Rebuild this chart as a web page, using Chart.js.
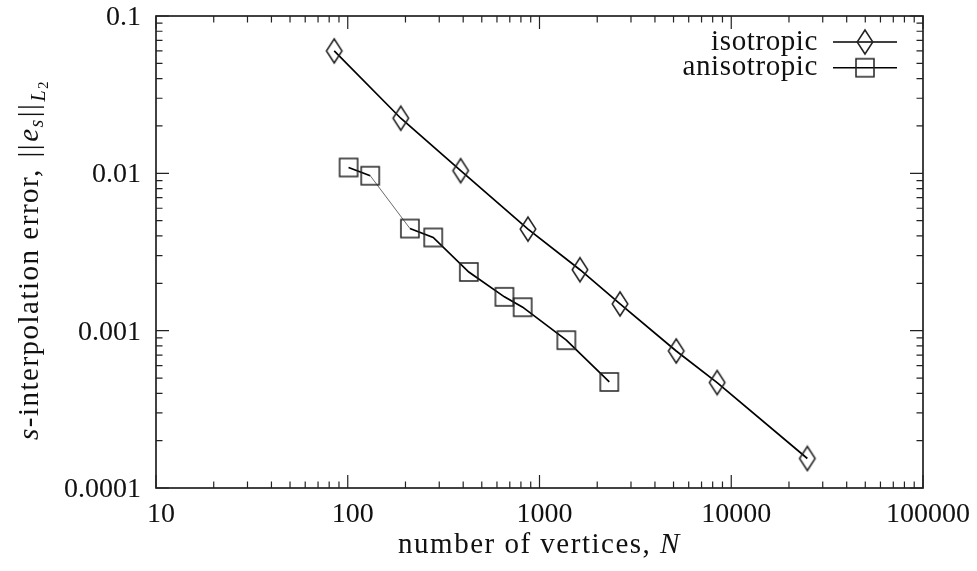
<!DOCTYPE html>
<html lang="en">
<head>
<meta charset="UTF-8">
<title>s-interpolation error vs number of vertices</title>
<script src="https://cdn.jsdelivr.net/npm/chart.js"></script>
<style>
  html, body { margin: 0; padding: 0; background: #ffffff; }
  canvas { display: block; }
</style>
</head>
<body>
<canvas id="errCanvas" width="977" height="571"></canvas>
<script>
// number of vertices N and L2 norm of the s-interpolation error
const isoN     = [85, 189, 388, 871, 1626, 2630, 5164, 8440, 24940];
const isoErr   = [0.0600, 0.0224, 0.0104, 0.00442, 0.00244, 0.00148, 0.000743, 0.000468, 0.000154];
const anisoN   = [101, 131, 211, 279, 428, 656, 817, 1380, 2312];
const anisoErr = [0.0109, 0.00966, 0.00446, 0.00391, 0.00236, 0.00164, 0.00141, 0.00087, 0.000472];

const seriesLabels = ['isotropic', 'anisotropic'];
const xTicks = [10, 100, 1000, 10000, 100000];
const xTickLabels = ['10', '100', '1000', '10000', '100000'];
const yTicks = [0.0001, 0.001, 0.01, 0.1];
const yTickLabels = ['0.0001', '0.001', '0.01', '0.1'];

const FONT = '"Liberation Serif", "Times New Roman", serif';
const TICK_SIZE = 28;
const TEXT_SIZE = 29;
const INK = '#111111';

// hollow markers, drawn once and used as point styles
function makeDiamond() {
    const c = document.createElement('canvas');
    c.width = 20; c.height = 28;
    const g = c.getContext('2d');
    g.strokeStyle = '#222';
    g.lineWidth = 1.5;
    g.beginPath();
    g.moveTo(10, 2); g.lineTo(17.8, 14); g.lineTo(10, 26); g.lineTo(2.2, 14);
    g.closePath();
    g.stroke();
    return c;
}
function makeSquare() {
    const c = document.createElement('canvas');
    c.width = 22; c.height = 22;
    const g = c.getContext('2d');
    g.strokeStyle = '#222';
    g.lineWidth = 1.5;
    g.strokeRect(2, 2, 18, 18);
    return c;
}

const toPoints = (xs, ys) => xs.map((v, i) => ({ x: v, y: ys[i] }));

// draws a row of differently styled text pieces centred on x
function drawRuns(ctx, runs, x, y) {
    let total = 0;
    runs.forEach(r => { ctx.font = r.font; r.w = ctx.measureText(r.text).width + (r.gap || 0); total += r.w; });
    let cx = x - total / 2;
    runs.forEach(r => {
        ctx.font = r.font;
        ctx.fillText(r.text, cx, y + (r.dy || 0));
        cx += r.w;
    });
}

const roman = `${TEXT_SIZE}px ${FONT}`;
const italic = `italic ${TEXT_SIZE}px ${FONT}`;
const subItalic = `italic 20px ${FONT}`;
const subSub = `15px ${FONT}`;

// frame with inward major/minor ticks on all four sides
const frameTicks = {
    id: 'frameTicks',
    afterDatasetsDraw(chart) {
        const { ctx, chartArea: a, scales } = chart;
        const xs = scales.x, ys = scales.y;
        ctx.save();
        ctx.strokeStyle = '#222';
        ctx.lineWidth = 1.2;
        ctx.beginPath();
        xTicks.forEach((t, i) => {
            const last = i === xTicks.length - 1;
            for (let m = 1; m <= (last ? 1 : 9); m++) {
                const px = xs.getPixelForValue(t * m);
                const len = m === 1 ? 13 : 6.5;
                ctx.moveTo(px, a.bottom); ctx.lineTo(px, a.bottom - len);
                ctx.moveTo(px, a.top); ctx.lineTo(px, a.top + len);
            }
        });
        yTicks.forEach((t, i) => {
            const last = i === yTicks.length - 1;
            for (let m = 1; m <= (last ? 1 : 9); m++) {
                const py = ys.getPixelForValue(t * m);
                const len = m === 1 ? 13 : 6.5;
                ctx.moveTo(a.left, py); ctx.lineTo(a.left + len, py);
                ctx.moveTo(a.right, py); ctx.lineTo(a.right - len, py);
            }
        });
        ctx.stroke();
        ctx.lineWidth = 1.7;
        ctx.strokeRect(a.left, a.top, a.right - a.left, a.bottom - a.top);
        ctx.restore();
    }
};

// axis titles with italic symbols and subscripts
const axisTitles = {
    id: 'axisTitles',
    afterDraw(chart) {
        const { ctx, chartArea: a } = chart;
        ctx.save();
        ctx.fillStyle = INK;
        ctx.textAlign = 'left';
        ctx.textBaseline = 'alphabetic';
        ctx.letterSpacing = '1.5px';
        drawRuns(ctx, [
            { text: 'number of vertices, ', font: roman },
            { text: 'N', font: italic }
        ], (a.left + a.right) / 2, 553);

        ctx.translate(38, 260);
        ctx.rotate(-Math.PI / 2);
        drawRuns(ctx, [
            { text: 's', font: italic },
            { text: '-interpolation error, ', font: roman, gap: 2 },
            { text: '||', font: roman, gap: 1 },
            { text: 'e', font: italic },
            { text: 's', font: subItalic, dy: 5, gap: 1 },
            { text: '||', font: roman, gap: 1 },
            { text: 'L', font: subItalic, dy: 7 },
            { text: '2', font: subSub, dy: 10 }
        ], 0, 0);
        ctx.restore();
    }
};

// key in the top right corner: label, then line with marker
const keyBox = {
    id: 'keyBox',
    afterDraw(chart) {
        const { ctx, chartArea: a } = chart;
        ctx.save();
        chart.data.datasets.forEach((ds, i) => {
            const ly = a.top + 26 + i * 25.7;
            ctx.fillStyle = INK;
            ctx.font = roman;
            ctx.letterSpacing = '0.6px';
            ctx.textAlign = 'right';
            ctx.textBaseline = 'alphabetic';
            ctx.fillText(ds.label, a.right - 105, ly + 7.5);
            ctx.strokeStyle = '#000';
            ctx.lineWidth = 1.6;
            ctx.beginPath();
            ctx.moveTo(a.right - 90, ly);
            ctx.lineTo(a.right - 26, ly);
            ctx.stroke();
            const img = ds.pointStyle;
            ctx.drawImage(img, a.right - 58 - img.width / 2, ly - img.height / 2);
        });
        ctx.restore();
    }
};

const ctx = document.getElementById('errCanvas').getContext('2d');
new Chart(ctx, {
    type: 'line',
    data: {
        datasets: [
            {
                label: seriesLabels[0],
                data: toPoints(isoN, isoErr),
                borderColor: '#000',
                borderWidth: 1.7,
                pointStyle: makeDiamond(),
                pointRadius: 10,
                tension: 0,
                clip: false
            },
            {
                label: seriesLabels[1],
                data: toPoints(anisoN, anisoErr),
                borderColor: '#000',
                borderWidth: 1.7,
                pointStyle: makeSquare(),
                pointRadius: 10,
                tension: 0,
                clip: false,
                segment: {
                    borderColor: c => c.p0DataIndex === 1 ? '#6a6a6a' : undefined,
                    borderWidth: c => c.p0DataIndex === 1 ? 1 : undefined
                }
            }
        ]
    },
    options: {
        responsive: false,
        animation: false,
        devicePixelRatio: 1,
        layout: { padding: { top: 16, right: 54, left: 0, bottom: 0 } },
        plugins: {
            legend: { display: false },
            tooltip: { enabled: false }
        },
        scales: {
            x: {
                type: 'logarithmic',
                min: 10,
                max: 100000,
                grid: { display: false, drawTicks: false },
                border: { display: false },
                afterBuildTicks: s => { s.ticks = xTicks.map(v => ({ value: v })); },
                afterFit: s => {
                    s.height = 83;
                    s.paddingLeft = 0;
                    s.paddingRight = 0;
                },
                ticks: {
                    autoSkip: false,
                    maxRotation: 0,
                    padding: 10,
                    labelOffset: 5,
                    color: INK,
                    font: { family: FONT, size: TICK_SIZE },
                    callback: (v, i) => xTickLabels[i]
                }
            },
            y: {
                type: 'logarithmic',
                min: 0.0001,
                max: 0.1,
                grid: { display: false, drawTicks: false },
                border: { display: false },
                afterBuildTicks: s => { s.ticks = yTicks.map(v => ({ value: v })); },
                afterFit: s => {
                    s.width = 156;
                    s.paddingTop = 0;
                    s.paddingBottom = 0;
                },
                ticks: {
                    autoSkip: false,
                    padding: 15,
                    labelOffset: 1.5,
                    color: INK,
                    font: { family: FONT, size: TICK_SIZE },
                    callback: (v, i) => yTickLabels[i]
                }
            }
        }
    },
    plugins: [frameTicks, axisTitles, keyBox]
});
</script>
</body>
</html>
